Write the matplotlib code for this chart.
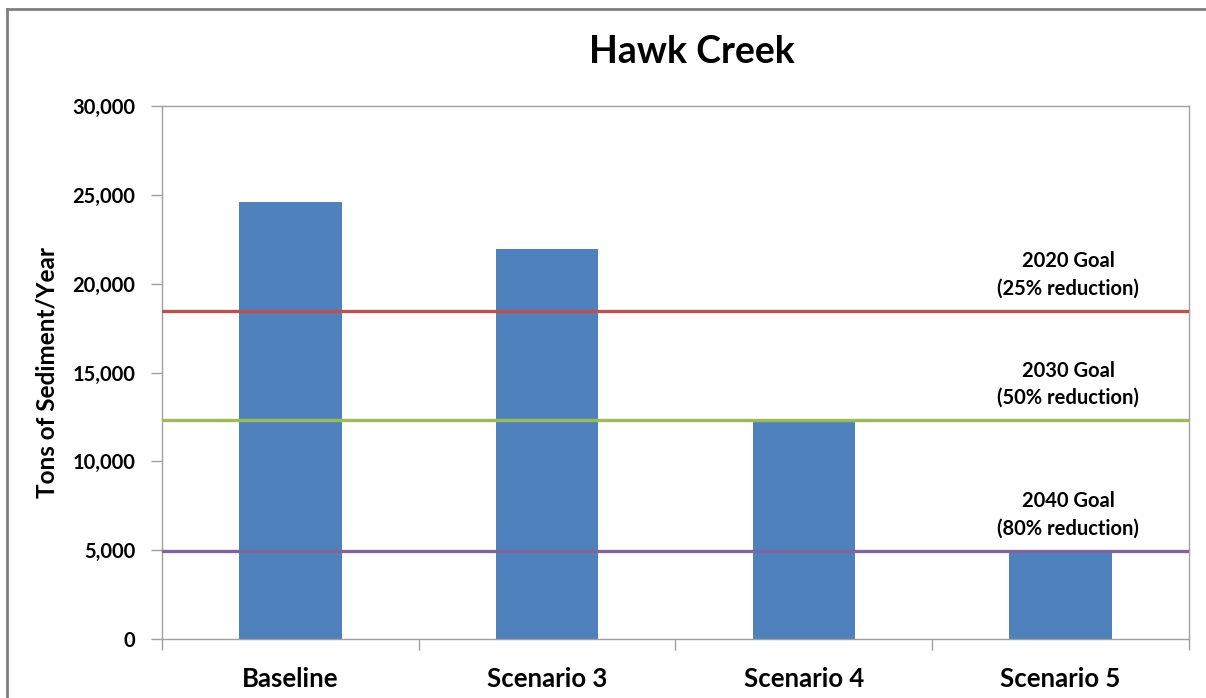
import matplotlib
matplotlib.use("Agg")
import matplotlib.pyplot as plt
from matplotlib.lines import Line2D
from matplotlib.ticker import FuncFormatter, FixedLocator

plt.rcParams['font.family'] = ['Lato', 'DejaVu Sans']

categories = ["Baseline", "Scenario 3", "Scenario 4", "Scenario 5"]
sediment = [24600, 21950, 12250, 4900]
goal_values = [18480, 12300, 4950]
goal_labels = ["2020 Goal\n(25% reduction)", "2030 Goal\n(50% reduction)", "2040 Goal\n(80% reduction)"]
goal_colors = ["#C0504D", "#9BBB59", "#8064A2"]
yticks = [0, 5000, 10000, 15000, 20000, 25000, 30000]

fig = plt.figure(figsize=(12.06, 6.98), dpi=100)
ax = fig.add_axes([162/1206, 1-639/698, (1189-162)/1206, (639-106)/698])

x = list(range(len(categories)))
ax.bar(x, sediment, width=0.4, color="#4F81BD", zorder=2)
ax.set_xlim(-0.5, len(categories) - 0.5)
ax.set_ylim(0, 30000)

for v, lab, c in zip(goal_values, goal_labels, goal_colors):
    ax.axhline(v, color=c, lw=2.4, zorder=3)
    ax.annotate(lab, xy=(3.03, v), xytext=(0, 9), textcoords="offset points",
                ha="center", va="bottom", fontsize=14.5, fontweight="bold",
                linespacing=1.45, zorder=4)

ax.set_yticks(yticks)
ax.yaxis.set_major_formatter(FuncFormatter(lambda v, p: f"{int(v):,}"))
ax.set_xticks(x)
ax.set_xticklabels(categories, fontsize=18.5, fontweight="bold")
ax.xaxis.set_minor_locator(FixedLocator([i - 0.5 for i in range(len(categories) + 1)]))
ax.tick_params(axis="x", which="major", length=0, pad=20)
ax.tick_params(axis="x", which="minor", length=8, color="#A0A0A0", width=1)
ax.tick_params(axis="y", length=8, color="#A0A0A0", width=1, labelsize=14.5, pad=11)
for lbl in ax.get_yticklabels():
    lbl.set_fontweight("bold")

for s in ax.spines.values():
    s.set_color("#A0A0A0")
    s.set_linewidth(1)

ax.set_ylabel("Tons of Sediment/Year", fontsize=17.5, fontweight="bold", labelpad=10)
fig.text(692/1206, 1-52/698, "Hawk Creek", ha="center", va="center",
         fontsize=27, fontweight="bold")

x0 = 7/1206
y0 = 1 - 9/698
fig.add_artist(Line2D([x0, x0], [0, y0], transform=fig.transFigure,
                      color="#808080", lw=2, solid_capstyle="projecting"))
fig.add_artist(Line2D([x0, 1], [y0, y0], transform=fig.transFigure,
                      color="#808080", lw=2, solid_capstyle="projecting"))

fig.savefig("out.png", dpi=100)
